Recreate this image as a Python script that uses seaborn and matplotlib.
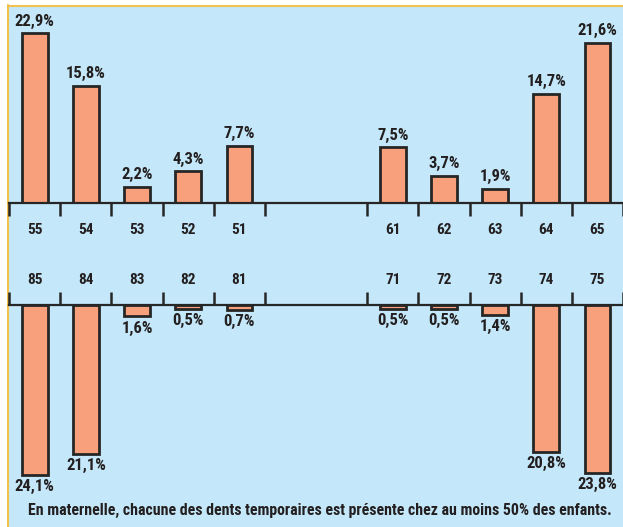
import matplotlib
matplotlib.use("Agg")
import matplotlib.pyplot as plt
from matplotlib import font_manager
from matplotlib.patches import Rectangle
from matplotlib.lines import Line2D
import pandas as pd
import seaborn as sns

# Percentage of children with each primary tooth decayed (upper / lower arch)
upper_teeth = ["55", "54", "53", "52", "51", "61", "62", "63", "64", "65"]
upper_pct = [22.9, 15.8, 2.2, 4.3, 7.7, 7.5, 3.7, 1.9, 14.7, 21.6]
lower_teeth = ["85", "84", "83", "82", "81", "71", "72", "73", "74", "75"]
lower_pct = [24.1, 21.1, 1.6, 0.5, 0.7, 0.5, 0.5, 1.4, 20.8, 23.8]
caption = ("En maternelle, chacune des dents temporaires est présente "
           "chez au moins 50% des enfants.")

BAR = "#F7A07B"
EDGE = "#262626"
INK = "#231F20"
PANEL = "#C4E8F9"
FRAME = "#F2C14E"

sns.set_theme(style="white")

# prefer a condensed bold sans if one is available
fonts = font_manager.fontManager.ttflist
names = {f.name for f in fonts}
family, stretch, cond = "Liberation Sans", "normal", False
for cand in ["Liberation Sans Narrow", "Roboto Condensed", "Open Sans Condensed",
             "Noto Sans Condensed", "Arial Narrow"]:
    if cand in names:
        family, cond = cand, True
        break
else:
    if any(f.name == "DejaVu Sans" and f.stretch == "condensed" and f.weight in ("bold", 700)
           for f in fonts):
        family, stretch, cond = "DejaVu Sans", "condensed", True
plt.rcParams["font.family"] = [family, "DejaVu Sans"]
plt.rcParams["font.weight"] = "bold"
plt.rcParams["font.stretch"] = stretch

TOOTH_FS = 11 if cond else 10
VALUE_FS = 12 if cond else 10.5
CAPTION_FS = 11.4 if cond else 9.7

W, H = 623, 527
fig = plt.figure(figsize=(W / 100, H / 100), dpi=100, facecolor="white")

# light blue panel with a thin yellow frame on the left and top
fig.patches.append(Rectangle((7 / W, 0), 1 - 7 / W, 1 - 5 / H, transform=fig.transFigure,
                             facecolor=PANEL, edgecolor="none", zorder=-5))
fig.lines.append(Line2D([7.5 / W, 7.5 / W], [0, 1 - 5 / H], transform=fig.transFigure,
                        color=FRAME, lw=1.5, zorder=-4))
fig.lines.append(Line2D([7.5 / W, 1], [1 - 5.5 / H, 1 - 5.5 / H], transform=fig.transFigure,
                        color=FRAME, lw=1.5, zorder=-4))

# slot layout: two groups of five teeth separated by a two-slot gap
slots = [i if i < 5 else i + 2 for i in range(len(upper_teeth))]
edges = [s - 0.5 for s in range(0, 6)] + [s - 0.5 for s in range(7, 13)]
x0_px, slot_px = 35.0, 51.5
xlim = (-x0_px / slot_px, (W - x0_px) / slot_px)


def fmt(v):
    return f"{v:.1f}".replace(".", ",") + "%"


def draw_row(ax, teeth, pct, px_per_unit, height_px, lower):
    df = pd.DataFrame({"slot": slots, "pct": pct})
    sns.barplot(data=df, x="slot", y="pct", native_scale=True, width=0.5,
                color=BAR, saturation=1, edgecolor=EDGE, linewidth=2.0,
                errorbar=None, ax=ax)
    ax.set_facecolor("none")
    ax.set_xlim(*xlim)
    top = height_px / px_per_unit
    if lower:
        ax.set_ylim(top, 0)
    else:
        ax.set_ylim(0, top)
    ax.set_xlabel("")
    ax.set_ylabel("")
    ax.set_yticks([])
    for s in ax.spines.values():
        s.set_visible(False)
    line = "top" if lower else "bottom"
    ax.spines[line].set_visible(True)
    ax.spines[line].set_color(EDGE)
    ax.spines[line].set_linewidth(1.6)
    ax.spines[line].set_bounds(-0.5, 12)
    ax.set_xticks(slots, labels=teeth)
    ax.set_xticks(edges, minor=True)
    if lower:
        ax.tick_params(axis="x", which="both", top=True, labeltop=True,
                       bottom=False, labelbottom=False)
    else:
        ax.tick_params(axis="x", which="both", bottom=True, labelbottom=True,
                       top=False, labeltop=False)
    ax.tick_params(axis="x", which="major", length=0, pad=13 if lower else 14.5,
                   labelsize=TOOTH_FS, labelcolor=INK)
    ax.tick_params(axis="x", which="minor", length=9.5, width=1.8, color=EDGE,
                   direction="out")
    for lab in ax.get_xticklabels():
        lab.set_fontweight("bold")
    ax.bar_label(ax.containers[0], labels=[fmt(v) for v in pct], padding=3.2,
                 fontsize=VALUE_FS, fontweight="bold", color=INK)


# upper arch: baseline 203 px from the top, bars grow upward
ax_up = fig.add_axes([0, (H - 203) / H, 1, 193 / H])
draw_row(ax_up, upper_teeth, upper_pct, 7.42, 193, lower=False)

# lower arch: baseline 305 px from the top, bars hang downward
ax_lo = fig.add_axes([0, (H - 500) / H, 1, 195 / H])
draw_row(ax_lo, lower_teeth, lower_pct, 7.05, 195, lower=True)

fig.text(320 / W, (H - 510) / H, caption, ha="center", va="center",
         fontsize=CAPTION_FS, fontweight="bold", color=INK)

fig.savefig("out.png", dpi=100, facecolor="white")
